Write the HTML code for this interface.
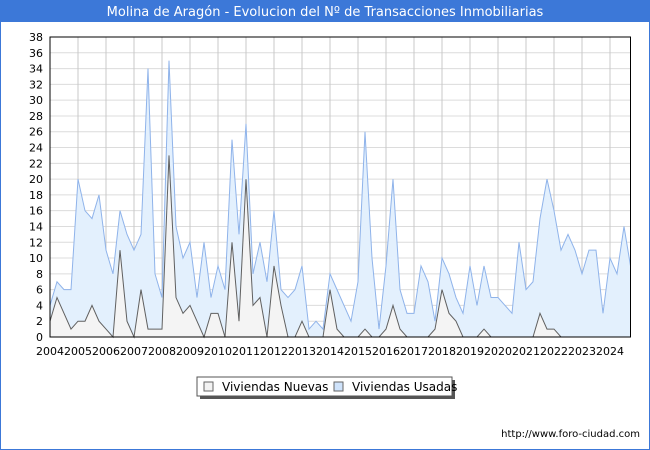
<!DOCTYPE html>
<html><head><meta charset="utf-8"><style>
body{margin:0;background:#fff;}
svg{display:block;font-family:"DejaVu Sans","Liberation Sans",sans-serif;}
</style></head><body>
<svg id="chart" width="650" height="450" viewBox="0 0 650 450" xmlns="http://www.w3.org/2000/svg">
<rect x="0.5" y="0.5" width="649" height="449" fill="#fff" stroke="#3c78d8"/>
<rect x="0" y="0" width="650" height="22" fill="#3c78d8"/>
<text x="325" y="16" text-anchor="middle" font-size="13" fill="#fff">Molina de Aragón - Evolucion del Nº de Transacciones Inmobiliarias</text>
<g id="grid"></g>
<g id="series"></g>
<rect x="50" y="37" width="580.5" height="300" fill="none" stroke="#000"/>
<g id="axes" font-size="11" fill="#000"></g>
<g>
<rect x="200" y="380" width="255" height="19" fill="#555"/>
<rect x="197" y="377" width="255" height="19" fill="#fff" stroke="#555"/>
<rect x="204" y="382" width="9" height="9" fill="#f3f3f3" stroke="#666"/>
<text x="222" y="391" font-size="12">Viviendas Nuevas</text>
<rect x="334" y="382" width="9" height="9" fill="#cfe3fb" stroke="#666"/>
<text x="352" y="391" font-size="12">Viviendas Usadas</text>
</g>
<text x="640" y="437" text-anchor="end" font-size="10">http://www.foro-ciudad.com</text>
</svg>
<script>
const years = [2004,2005,2006,2007,2008,2009,2010,2011,2012,2013,2014,2015,2016,2017,2018,2019,2020,2021,2022,2023,2024];
const yTicks = [0,2,4,6,8,10,12,14,16,18,20,22,24,26,28,30,32,34,36,38];
const usadas = [4,7,6,6,20,16,15,18,11,8,16,13,11,13,34,8,5,35,14,10,12,5,12,5,9,6,25,13,27,8,12,7,16,6,5,6,9,1,2,1,8,6,4,2,7,26,10,1,9,20,6,3,3,9,7,2,10,8,5,3,9,4,9,5,5,4,3,12,6,7,15,20,16,11,13,11,8,11,11,3,10,8,14,9];
const nuevas = [2,5,3,1,2,2,4,2,1,0,11,2,0,6,1,1,1,23,5,3,4,2,0,3,3,0,12,2,20,4,5,0,9,4,0,0,2,0,0,0,6,1,0,0,0,1,0,0,1,4,1,0,0,0,0,1,6,3,2,0,0,0,1,0,0,0,0,0,0,0,3,1,1,0,0,0,0,0,0,0,0,0,0,0];
const NS="http://www.w3.org/2000/svg";
const X0=50,X1=630.5,Y0=337,Y1=37,YMAX=38;
const xYear = v => X0 + (v-2004)*28;
const xIdx = i => xYear(2004 + i/4);
const yVal = v => Y0 - v*(Y0-Y1)/YMAX;
function mk(tag, attrs, parent){const e=document.createElementNS(NS,tag);for(const k in attrs)e.setAttribute(k,attrs[k]);parent.appendChild(e);return e;}
const grid=document.getElementById('grid'), axes=document.getElementById('axes'), series=document.getElementById('series');
yTicks.forEach(t=>{
  const l=mk('line',{x1:X0,x2:X1,y1:yVal(t),y2:yVal(t),stroke:'#dcdcdc'},grid);
  
  
  const tx=mk('text',{x:43,y:yVal(t)+4,'text-anchor':'end'},axes);
  tx.textContent=t;
  
  
});
years.forEach(y=>{
  const l=mk('line',{x1:xYear(y),x2:xYear(y),y1:Y1,y2:Y0,stroke:'#c8c8c8'},grid);
  
  
  const tx=mk('text',{x:xYear(y),y:355,'text-anchor':'middle'},axes);
  tx.textContent=y;
  
  
});
function area(data, fill, stroke, name){
  const pts=data.map((v,i)=>Math.min(xIdx(i),X1)+','+yVal(v)).join(' ');
  const last=Math.min(xIdx(data.length-1),X1);
  const a=mk('polygon',{points:X0+','+Y0+' '+pts+' '+last+','+Y0,fill:fill},series);
  
  
  const l=mk('polyline',{points:pts,fill:'none',stroke:stroke,'stroke-width':1},series);
  
  
}
area(usadas,'#e3f0fd','#8fb3ea','usadas');
area(nuevas,'#f4f4f4','#606060','nuevas');
</script>
</body></html>
